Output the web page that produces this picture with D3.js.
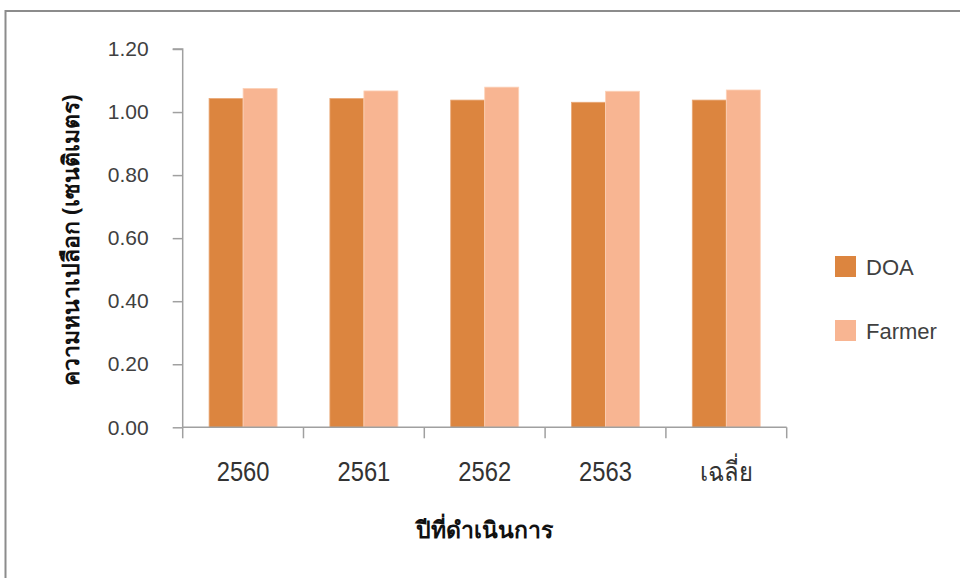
<!DOCTYPE html>
<html>
<head>
<meta charset="utf-8">
<script src="https://cdn.jsdelivr.net/npm/d3@7"></script>
<style>
  html, body { margin: 0; padding: 0; background: #fff; }
  svg { display: block; }
</style>
</head>
<body>
<svg id="chart" width="960" height="578"></svg>
<script>
const categories = ["2560", "2561", "2562", "2563", "เฉลี่ย"];
const seriesNames = ["DOA", "Farmer"];
const doaValues = [1.043, 1.043, 1.038, 1.031, 1.038];
const farmerValues = [1.075, 1.067, 1.079, 1.066, 1.070];
const yTickValues = [0, 0.2, 0.4, 0.6, 0.8, 1.0, 1.2];
const yTitle = "ความหนาเปลือก  (เซนติเมตร)";
const xTitle = "ปีที่ดำเนินการ";
const colors = ["#DC853F", "#F8B592"];

const svg = d3.select("#chart");

// outer frame
svg.append("rect").attr("x", 5.5).attr("y", 11).attr("width", 970).attr("height", 600)
  .attr("fill", "none").attr("stroke", "#8c8c8c").attr("stroke-width", 2);

const plot = { left: 182.7, right: 786.7, top: 49, bottom: 427.3 };

const x = d3.scaleBand().domain(categories).range([plot.left, plot.right]).paddingInner(0).paddingOuter(0);
const x1 = d3.scaleBand().domain(seriesNames).range([0, x.bandwidth()]).paddingInner(0).paddingOuter(0.776);
const y = d3.scaleLinear().domain([0, 1.2]).range([plot.bottom, plot.top]);

const data = categories.map((c, i) => ({ cat: c, vals: [doaValues[i], farmerValues[i]] }));

// bars
const g = svg.append("g");
data.forEach(d => {
  d.vals.forEach((v, j) => {
    g.append("rect")
      .attr("x", x(d.cat) + x1(seriesNames[j]))
      .attr("y", y(v))
      .attr("width", x1.bandwidth())
      .attr("height", y(0) - y(v))
      .attr("fill", colors[j])
      .attr("stroke", j === 0 ? "#e9a877" : "#fcd2b9")
      .attr("stroke-width", 0.8);
  });
});

const axisColor = "#a0a0a0";

// y axis
const yAxis = d3.axisLeft(y).tickValues(yTickValues).tickFormat(d3.format(".2f")).tickSize(10).tickPadding(24);
const yg = svg.append("g").attr("transform", `translate(${plot.left},0)`).call(yAxis);
yg.select(".domain").attr("stroke", axisColor).attr("stroke-width", 1.5).attr("d", `M-10,${plot.top}H0V${plot.bottom}`);
yg.selectAll(".tick line").attr("stroke", axisColor).attr("stroke-width", 1.5);
yg.selectAll(".tick text").attr("fill", "#404040").style("font-family", "'Liberation Sans', Arial, sans-serif").style("font-size", "21px");

// x axis
const xAxis = d3.axisBottom(x).tickSize(0).tickPadding(0);
const xg = svg.append("g").attr("transform", `translate(0,${plot.bottom})`).call(xAxis);
xg.select(".domain").attr("stroke", axisColor).attr("stroke-width", 1.5).attr("d", `M${plot.left},0H${plot.right}`);
xg.selectAll(".tick text")
  .attr("fill", "#333")
  .attr("dy", null).attr("y", null)
  .attr("transform", "translate(0,54) scale(0.88,1)")
  .style("font-family", "'Liberation Sans', Arial, sans-serif").style("font-size", "27px");
// category boundary tick marks
const bounds = categories.map(c => x(c)).concat([x(categories[categories.length - 1]) + x.bandwidth()]);
xg.selectAll(".btick").data(bounds).enter().append("line")
  .attr("x1", d => d).attr("x2", d => d).attr("y1", 0).attr("y2", 11)
  .attr("stroke", axisColor).attr("stroke-width", 1.5);

// axis titles
svg.append("text")
  .attr("transform", `translate(79,${(plot.top + plot.bottom) / 2 + 2}) rotate(-90)`)
  .attr("text-anchor", "middle")
  .attr("fill", "#111")
  .style("font-family", "'Noto Sans', 'DejaVu Sans', sans-serif")
  .style("font-weight", "bold").style("font-size", "23px")
  .text(yTitle);

svg.append("text")
  .attr("x", (plot.left + plot.right) / 2).attr("y", 538)
  .attr("text-anchor", "middle")
  .attr("fill", "#111")
  .style("font-family", "'Noto Sans', 'DejaVu Sans', sans-serif")
  .style("font-weight", "bold").style("font-size", "23px")
  .text(xTitle);

// legend
const lg = svg.append("g").attr("transform", "translate(835,256)");
seriesNames.forEach((s, i) => {
  const row = lg.append("g").attr("transform", `translate(0,${i * 64})`);
  row.append("rect").attr("width", 21).attr("height", 21).attr("fill", colors[i]);
  row.append("text").attr("x", 31).attr("y", 19)
    .attr("fill", "#404040")
    .style("font-family", "'Liberation Sans', Arial, sans-serif").style("font-size", "22px")
    .text(s);
});
</script>
</body>
</html>
